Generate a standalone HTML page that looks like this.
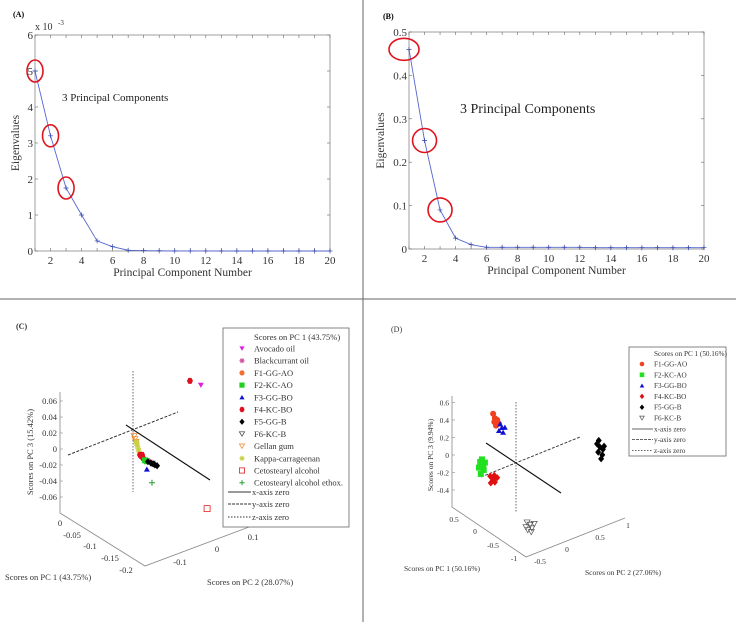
<!DOCTYPE html>
<html><head><meta charset="utf-8">
<style>
body{margin:0;background:#fff;}
svg{display:block;font-family:"Liberation Serif",serif;}
</style></head>
<body>
<svg id="fig" width="736" height="622" viewBox="0 0 736 622">
<line x1="363" y1="0" x2="363" y2="622" stroke="#999" stroke-width="1.5"/>
<line x1="0" y1="299" x2="736" y2="299" stroke="#666" stroke-width="1"/>
<g id="pA"></g>
<g id="pB"></g>
<g id="pC"></g>
<g id="pD"></g>
</svg>
<script>
// ---- Panel A / B data ----
const compNumbers = [1,2,3,4,5,6,7,8,9,10,11,12,13,14,15,16,17,18,19,20];
const eigA = [5.0,3.2,1.75,1.0,0.28,0.12,0.02,0.01,0.006,0.003,0.002,0.001,0,0,0,0,0,0,0,0];
const eigB = [0.46,0.25,0.09,0.025,0.01,0.004,0.004,0.004,0.004,0.004,0.004,0.004,0.003,0.003,0.003,0.003,0.003,0.003,0.003,0.003];
const xTicksAB = [2,4,6,8,10,12,14,16,18,20];
const yTicksA = [0,1,2,3,4,5,6];
const yTicksB = [0,0.1,0.2,0.3,0.4,0.5];
const yTickLabelsB = ["0","0.1","0.2","0.3","0.4","0.5"];

// ---- Panel C data (PC2, PC3 scores) ----
const cGroups = ["Avocado oil","Blackcurrant oil","F1-GG-AO","F2-KC-AO","F3-GG-BO","F4-KC-BO","F5-GG-B","F6-KC-B","Gellan gum","Kappa-carrageenan","Cetostearyl alcohol","Cetostearyl alcohol ethox."];
const cPC2 = [[0.186],[0.047,0.055],[0.022,0.027],[0.033,0.038],[0.038],[0.156,0.019,0.022,0.027,0.025],[0.041,0.049,0.055,0.060,0.066],[0.052],[0.003,0.005,0.008],[0.008,0.011,0.014,0.016,0.011],[0.203],[0.052]];
const cPC3 = [[0.027],[-0.047,-0.051],[-0.036,-0.039],[-0.043,-0.045],[-0.055],[0.037,-0.034,-0.036,-0.039,-0.035],[-0.046,-0.049,-0.051,-0.053,-0.055],[-0.050],[-0.008,-0.012,-0.016],[-0.016,-0.021,-0.025,-0.029,-0.018],[-0.13],[-0.074]];
const cZTicks = [0.06,0.04,0.02,0,-0.02,-0.04,-0.06];

// ---- Panel D data (PC2, PC3 scores) ----
const dGroups = ["F1-GG-AO","F2-KC-AO","F3-GG-BO","F4-KC-BO","F5-GG-B","F6-KC-B"];
const dPC2 = [[-0.39,-0.36,-0.37,-0.32,-0.34,-0.29],[-0.61,-0.56,-0.63,-0.55,-0.60,-0.58,-0.53],[-0.27,-0.24,-0.22,-0.29,-0.19],[-0.44,-0.39,-0.36,-0.43,-0.37,-0.32],[1.38,1.43,1.48,1.40,1.47,1.45,1.41,1.50],[0.19,0.24,0.27,0.20,0.26,0.31,0.17]];
const dPC3 = [[0.67,0.61,0.57,0.58,0.52,0.53],[0.18,0.13,0.12,0.07,0.04,0.20,0.15],[0.52,0.47,0.41,0.45,0.46],[-0.03,-0.08,-0.12,-0.11,-0.04,-0.08],[-0.16,-0.21,-0.25,-0.26,-0.31,-0.35,-0.13,-0.22],[-0.73,-0.77,-0.82,-0.82,-0.86,-0.78,-0.78]];
const dZTicks = [0.6,0.4,0.2,0,-0.2,-0.4];

const NS="http://www.w3.org/2000/svg";
function mk(parent,tag,attrs,text){const e=document.createElementNS(NS,tag);for(const k in attrs)e.setAttribute(k,attrs[k]);if(text!==undefined)e.textContent=text;parent.appendChild(e);return e;}

function screePanel(g,cfg){
  const {x0,x1,y0,y1,ymax,data,yTicks,yLabels,label,lx,ly,ann,annx,anny,annSize,ylabX,ells,expo}=cfg;
  const sx=v=>x0+(v-1)/19*(x1-x0);
  const sy=v=>y1-v/ymax*(y1-y0);
  let t=mk(g,'text',{x:lx,y:ly,'font-size':8,'font-weight':'bold'},label);
  
  
  let r=mk(g,'rect',{x:x0,y:y0,width:x1-x0,height:y1-y0,fill:'none',stroke:'#888','stroke-width':0.8});
  
  
  for(let i=1;i<=20;i++){
    mk(g,'line',{x1:sx(i),y1:y1,x2:sx(i),y2:y1-3,stroke:'#666','stroke-width':0.6});
    mk(g,'line',{x1:sx(i),y1:y0,x2:sx(i),y2:y0+3,stroke:'#666','stroke-width':0.6});
  }
  xTicksAB.forEach(v=>{
    const tt=mk(g,'text',{x:sx(v),y:y1+13,'font-size':11,'text-anchor':'middle',fill:'#333'},String(v));
    
    
  });
  yTicks.forEach((v,i)=>{
    mk(g,'line',{x1:x0,y1:sy(v),x2:x0+3,y2:sy(v),stroke:'#666','stroke-width':0.6});
    mk(g,'line',{x1:x1,y1:sy(v),x2:x1-3,y2:sy(v),stroke:'#666','stroke-width':0.6});
    const tt=mk(g,'text',{x:x0-2,y:sy(v)+4,'font-size':11,'text-anchor':'end',fill:'#333'},yLabels[i]);
    
    
  });
  if(expo){
    const e=mk(g,'text',{x:x0,y:y0-5,'font-size':10,fill:'#333'},'x 10');
    
    
    mk(g,'text',{x:x0+23,y:y0-10,'font-size':7,fill:'#333'},'-3');
  }
  const xt=mk(g,'text',{x:(x0+x1)/2,y:y1+25,'font-size':11.5,'text-anchor':'middle',fill:'#333'},'Principal Component Number');
  
  
  const ycy=(y0+y1)/2;
  const yt=mk(g,'text',{x:ylabX,y:ycy,'font-size':11.5,'text-anchor':'middle',fill:'#333',transform:`rotate(-90 ${ylabX} ${ycy})`},'Eigenvalues');
  
  
  const at=mk(g,'text',{x:annx,y:anny,'font-size':annSize,fill:'#222'},ann);
  
  
  const pts=data.map((v,i)=>sx(compNumbers[i])+','+sy(v)).join(' ');
  const pl=mk(g,'polyline',{points:pts,fill:'none',stroke:'#5566cc','stroke-width':0.9});
  
  
  data.forEach((v,i)=>{
    const px=sx(compNumbers[i]),py=sy(v);
    const m=mk(g,'path',{d:`M${px-2.5},${py}h5M${px},${py-2.5}v5`,stroke:'#3344aa','stroke-width':0.7});
    
    
  });
  ells.forEach((e,i)=>{
    const el=mk(g,'ellipse',{cx:sx(compNumbers[i])+e[2],cy:sy(data[i]),rx:e[0],ry:e[1],fill:'none',stroke:'#e0141e','stroke-width':1.6});
    
    
  });
}
screePanel(document.getElementById('pA'),{x0:35,x1:330,y0:35,y1:251,ymax:6,data:eigA,yTicks:yTicksA,yLabels:yTicksA.map(String),label:'(A)',lx:13,ly:17,ann:'3 Principal Components',annx:62,anny:101,annSize:11,ylabX:19,ells:[[8,11,0],[8,11,0],[8,11,0]],expo:true});
screePanel(document.getElementById('pB'),{x0:409,x1:704,y0:32,y1:249,ymax:0.5,data:eigB,yTicks:yTicksB,yLabels:yTickLabelsB,label:'(B)',lx:383,ly:19,ann:'3 Principal Components',annx:460,anny:113,annSize:14,ylabX:384,ells:[[15,11,-5],[12,12,0],[12,12,0]],expo:false});

// ---- 3D score plots ----
function marker(g,type,x,y,color,s){
  let e;
  if(type==='tridown') e=mk(g,'path',{d:`M${x-s},${y-s*0.8}L${x+s},${y-s*0.8}L${x},${y+s*0.9}Z`,fill:color});
  else if(type==='tridownopen') e=mk(g,'path',{d:`M${x-s},${y-s*0.8}L${x+s},${y-s*0.8}L${x},${y+s*0.9}Z`,fill:'none',stroke:color,'stroke-width':0.7});
  else if(type==='star') e=mk(g,'path',{d:`M${x-s},${y}h${2*s}M${x},${y-s}v${2*s}M${x-s*0.7},${y-s*0.7}l${1.4*s},${1.4*s}M${x-s*0.7},${y+s*0.7}l${1.4*s},${-1.4*s}`,stroke:color,'stroke-width':1});
  else if(type==='circle') e=mk(g,'circle',{cx:x,cy:y,r:s,fill:color});
  else if(type==='square') e=mk(g,'rect',{x:x-s,y:y-s,width:2*s,height:2*s,fill:color});
  else if(type==='squareopen') e=mk(g,'rect',{x:x-s,y:y-s,width:2*s,height:2*s,fill:'none',stroke:color,'stroke-width':0.8});
  else if(type==='triup') e=mk(g,'path',{d:`M${x-s},${y+s*0.8}L${x+s},${y+s*0.8}L${x},${y-s*0.9}Z`,fill:color});
  else if(type==='hex') e=mk(g,'path',{d:`M${x-s},${y}L${x-s/2},${y-s}L${x+s/2},${y-s}L${x+s},${y}L${x+s/2},${y+s}L${x-s/2},${y+s}Z`,fill:color});
  else if(type==='diamond') e=mk(g,'path',{d:`M${x},${y-s*1.2}L${x+s},${y}L${x},${y+s*1.2}L${x-s},${y}Z`,fill:color});
  else if(type==='plus') e=mk(g,'path',{d:`M${x-s},${y}h${2*s}M${x},${y-s}v${2*s}`,stroke:color,'stroke-width':1});
  return e;
}
function text(g,x,y,str,size,anchor,name,extra){
  const t=mk(g,'text',Object.assign({x:x,y:y,'font-size':size,'text-anchor':anchor||'start',fill:'#333'},extra||{}),str);
  
  
  return t;
}

// Panel C
(function(){
  const g=document.getElementById('pC');
  const ox=133,oy=430,e2=[365,-125],e3=-800;
  const px=(a)=>ox+a*e2[0];
  const py=(a,b)=>oy+a*e2[1]+b*e3;
  text(g,16,329,'(C)',8,'start','panel-label',{'font-weight':'bold'});
  // box axes
  mk(g,'path',{d:'M60,392L60,513L145,566L249,527',fill:'none',stroke:'#888','stroke-width':0.8});
  const zy=v=>449-v/0.02*16;
  cZTicks.forEach(v=>{text(g,57,zy(v)+3,String(v),8.5,'end','z-tick-label');mk(g,'line',{x1:60,y1:zy(v),x2:63,y2:zy(v),stroke:'#888','stroke-width':0.6});});
  [['0',60,526],['-0.05',72,538],['-0.1',90,549],['-0.15',110,561],['-0.2',126,573]].forEach(a=>text(g,a[1],a[2],a[0],8.5,'middle','pc1-tick-label'));
  [['-0.1',180,565],['0',217,552],['0.1',253,540]].forEach(a=>text(g,a[1],a[2],a[0],8.5,'middle','pc2-tick-label'));
  text(g,5,580,'Scores on PC 1 (43.75%)',8.5,'start','pc1-axis-title');
  text(g,207,585,'Scores on PC 2 (28.07%)',8.5,'start','pc2-axis-title');
  text(g,33,452,'Scores on PC 3 (15.42%)',8.5,'middle','pc3-axis-title',{transform:'rotate(-90 33 452)'});
  let l=mk(g,'line',{x1:133,y1:371,x2:133,y2:492,stroke:'#444','stroke-width':0.8,'stroke-dasharray':'1.5,1.5'});
  
  l=mk(g,'line',{x1:68,y1:455,x2:178,y2:412,stroke:'#333','stroke-width':1,'stroke-dasharray':'3,1.5'});
  
  l=mk(g,'line',{x1:126,y1:425,x2:210,y2:480,stroke:'#111','stroke-width':1.2});
  
  const styles=[['tridown','#e020e0'],['star','#d0509a'],['circle','#f07030'],['square','#20d020'],['triup','#1010d0'],['hex','#e01020'],['diamond','#000'],['tridownopen','#333'],['tridownopen','#f08020'],['star','#c8d040'],['squareopen','#e02020'],['plus','#20a030']];
  const order=[8,9,1,2,5,3,7,6,4,0,10,11];
  order.forEach(gi=>{
    cPC2[gi].forEach((v,j)=>{
      const m=marker(g,styles[gi][0],px(v),py(v,cPC3[gi][j]),styles[gi][1],3);
      
      
    });
  });
  // legend
  const lg=mk(g,'g',{});
  
  
  mk(lg,'rect',{x:223,y:328,width:126,height:199,fill:'#fff',stroke:'#666','stroke-width':0.8});
  text(lg,254,340,'Scores on PC 1 (43.75%)',8.5,'start','legend-title');
  cGroups.forEach((n,i)=>{
    const y=348.5+i*12.2;
    const m=marker(lg,styles[i][0],242,y,styles[i][1],2.6);
    
    
    text(lg,254,y+3,n,8.5,'start','legend-entry');
  });
  const ly=[495,507,520];
  const dash=[null,'3,1','1.5,1.5'];
  ['x-axis zero','y-axis zero','z-axis zero'].forEach((n,i)=>{
    const a={x1:228,y1:ly[i]-3,x2:251,y2:ly[i]-3,stroke:'#333','stroke-width':0.9};
    if(dash[i])a['stroke-dasharray']=dash[i];
    mk(lg,'line',a);
    text(lg,252,ly[i],n,8.5,'start','legend-entry');
  });
})();

// Panel D
(function(){
  const g=document.getElementById('pD');
  const ox=516,oy=463,e2=[58.7,-24],e3=-87.5;
  const px=(a)=>ox+a*e2[0];
  const py=(a,b)=>oy+a*e2[1]+b*e3;
  text(g,391,332,'(D)',8,'start','panel-label');
  mk(g,'path',{d:'M452,396L452,507L526,557L625,518',fill:'none',stroke:'#888','stroke-width':0.8});
  const zy=v=>455-v/0.2*17.5;
  dZTicks.forEach(v=>{text(g,449,zy(v)+3,String(v),7.5,'end','z-tick-label');mk(g,'line',{x1:452,y1:zy(v),x2:455,y2:zy(v),stroke:'#888','stroke-width':0.6});});
  [['0.5',454,522],['0',475,534],['-0.5',493,548],['-1',514,561]].forEach(a=>text(g,a[1],a[2],a[0],7.5,'middle','pc1-tick-label'));
  [['-0.5',540,564],['0',567,552],['0.5',600,540],['1',628,528]].forEach(a=>text(g,a[1],a[2],a[0],7.5,'middle','pc2-tick-label'));
  text(g,404,571,'Scores on PC 1 (50.16%)',7.5,'start','pc1-axis-title');
  text(g,585,575,'Scores on PC 2 (27.06%)',7.5,'start','pc2-axis-title');
  text(g,433,455,'Scores on PC 3 (9.94%)',7.5,'middle','pc3-axis-title',{transform:'rotate(-90 433 455)'});
  let l=mk(g,'line',{x1:516,y1:402,x2:516,y2:513,stroke:'#444','stroke-width':0.8,'stroke-dasharray':'1.5,1.5'});
  
  l=mk(g,'line',{x1:481,y1:477,x2:580,y2:437,stroke:'#333','stroke-width':0.9,'stroke-dasharray':'3,1.5'});
  
  l=mk(g,'line',{x1:486,y1:443,x2:561,y2:493,stroke:'#111','stroke-width':1.1});
  
  const styles=[['circle','#f04020'],['square','#20e020'],['triup','#1010d0'],['diamond','#e01010'],['diamond','#000'],['tridownopen','#555']];
  dGroups.forEach((n,gi)=>{
    dPC2[gi].forEach((v,j)=>{
      const m=marker(g,styles[gi][0],px(v),py(v,dPC3[gi][j]),styles[gi][1],3);
      
      
    });
  });
  const lg=mk(g,'g',{});
  
  
  mk(lg,'rect',{x:629,y:347,width:97,height:109,fill:'#fff',stroke:'#666','stroke-width':0.8});
  text(lg,654,356,'Scores on PC 1 (50.16%)',7.2,'start','legend-title');
  dGroups.forEach((n,i)=>{
    const y=364+i*10.8;
    const m=marker(lg,styles[i][0],642,y,styles[i][1],2.3);
    
    
    text(lg,654,y+2.5,n,7.2,'start','legend-entry');
  });
  const ly=[431.5,442,453];
  const dash=[null,'3,1','1.5,1.5'];
  ['x-axis zero','y-axis zero','z-axis zero'].forEach((n,i)=>{
    const a={x1:632,y1:ly[i]-2.5,x2:653,y2:ly[i]-2.5,stroke:'#333','stroke-width':0.8};
    if(dash[i])a['stroke-dasharray']=dash[i];
    mk(lg,'line',a);
    text(lg,654,ly[i],n,7.2,'start','legend-entry');
  });
})();
</script>
</body></html>
